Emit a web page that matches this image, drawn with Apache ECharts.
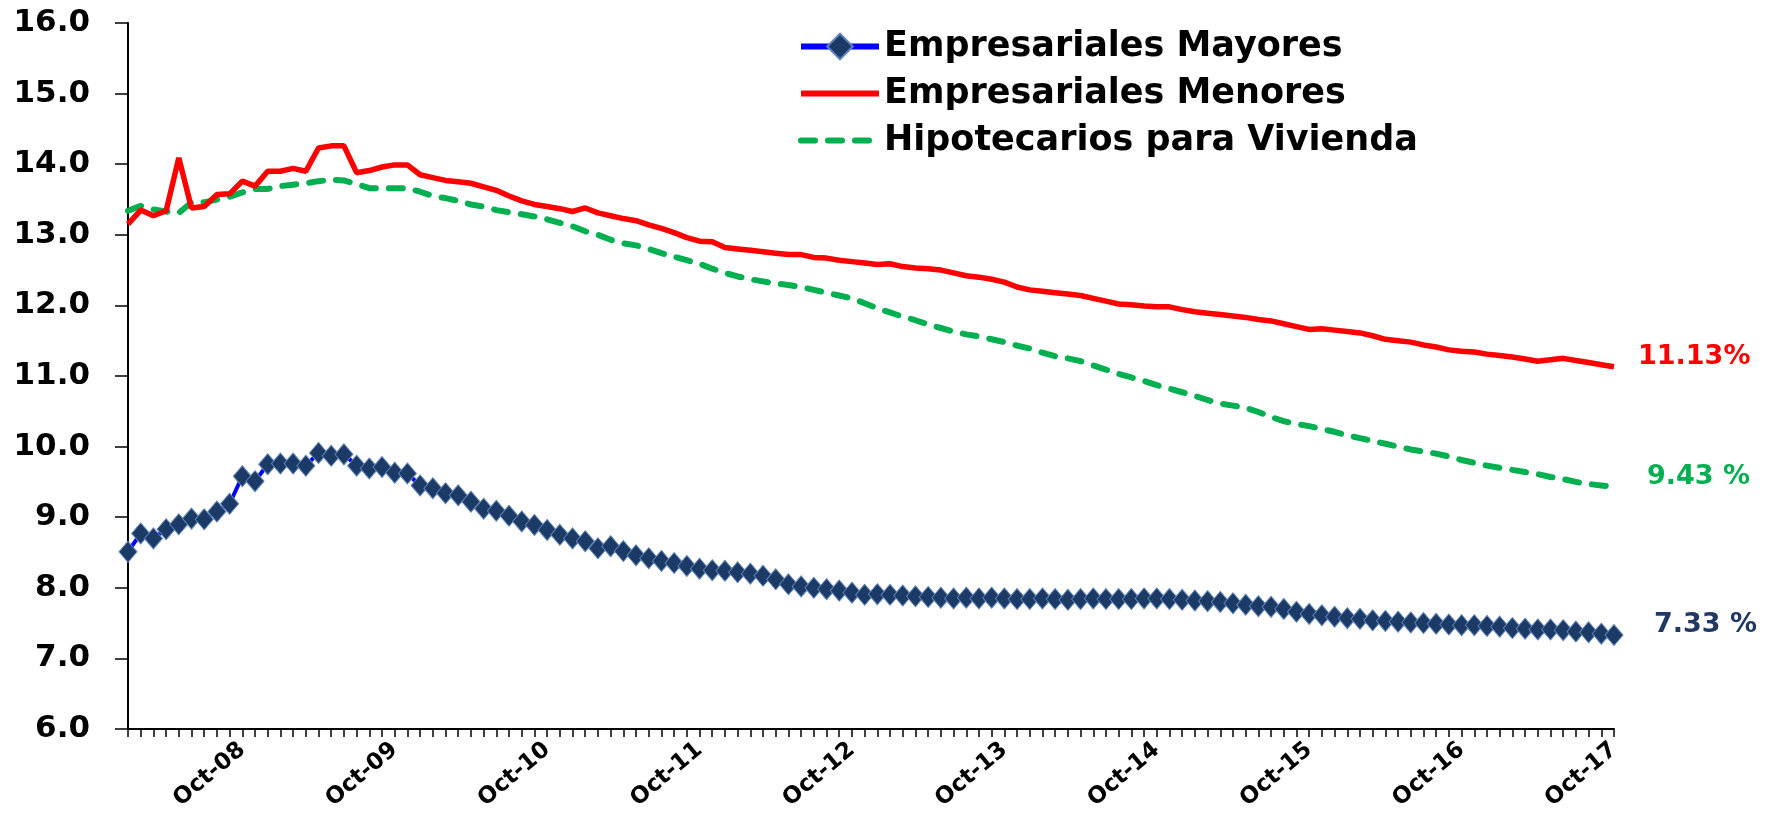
<!DOCTYPE html>
<html>
<head>
<meta charset="utf-8">
<script src="https://cdn.jsdelivr.net/npm/echarts@6/dist/echarts.min.js"></script>
<style>
  html, body { margin: 0; padding: 0; background: #fff; }
  #main { width: 1777px; height: 822px; }
</style>
</head>
<body>
<div id="main"></div>
<script>
// monthly series, Jan-08 .. Oct-17
const monthNames = ['Jan', 'Feb', 'Mar', 'Apr', 'May', 'Jun', 'Jul', 'Aug', 'Sep', 'Oct', 'Nov', 'Dec'];
const startYear = 2008;

const seriesNames = ['Empresariales Mayores', 'Empresariales Menores', 'Hipotecarios para Vivienda'];
const endLabels = ['7.33 %', '11.13%', '9.43 %'];

const mayores = [
  8.51, 8.77, 8.70, 8.83, 8.90, 8.98, 8.97, 9.08, 9.19, 9.58, 9.51, 9.75,
  9.76, 9.76, 9.73, 9.91, 9.87, 9.89, 9.73, 9.69, 9.71, 9.63, 9.62, 9.45,
  9.41, 9.34, 9.31, 9.22, 9.12, 9.09, 9.02, 8.94, 8.89, 8.82, 8.75, 8.70,
  8.66, 8.56, 8.59, 8.52, 8.46, 8.42, 8.38, 8.35, 8.31, 8.27, 8.25, 8.24,
  8.22, 8.20, 8.17, 8.12, 8.05, 8.02, 8.00, 7.98, 7.96, 7.93, 7.90, 7.91,
  7.90, 7.89, 7.88, 7.87, 7.86, 7.85, 7.86, 7.85, 7.86, 7.85, 7.84, 7.84,
  7.85, 7.84, 7.83, 7.84, 7.85, 7.84, 7.84, 7.84, 7.85, 7.85, 7.84, 7.83,
  7.82, 7.81, 7.80, 7.78, 7.76, 7.74, 7.73, 7.70, 7.66, 7.63, 7.61, 7.59,
  7.57, 7.56, 7.54, 7.53, 7.52, 7.51, 7.50, 7.49, 7.48, 7.47, 7.47, 7.46,
  7.45, 7.43, 7.42, 7.41, 7.41, 7.40, 7.38, 7.37, 7.35, 7.33
];

const menores = [
  13.15, 13.35, 13.27, 13.34, 14.09, 13.38, 13.40, 13.57, 13.58, 13.76, 13.69, 13.90,
  13.90, 13.94, 13.90, 14.23, 14.26, 14.26, 13.88, 13.91, 13.96, 13.99, 13.99, 13.85,
  13.81, 13.77, 13.75, 13.73, 13.68, 13.63, 13.55, 13.48, 13.43, 13.40, 13.37, 13.33,
  13.38, 13.31, 13.27, 13.23, 13.20, 13.14, 13.09, 13.03, 12.96, 12.91, 12.90, 12.82,
  12.80, 12.78, 12.76, 12.74, 12.72, 12.72, 12.68, 12.67, 12.64, 12.62, 12.60, 12.58,
  12.59, 12.55, 12.53, 12.52, 12.50, 12.46, 12.42, 12.40, 12.37, 12.33, 12.26, 12.22,
  12.20, 12.18, 12.16, 12.14, 12.10, 12.06, 12.02, 12.01, 11.99, 11.98, 11.98, 11.94,
  11.91, 11.89, 11.87, 11.85, 11.83, 11.80, 11.78, 11.74, 11.70, 11.66, 11.67, 11.65,
  11.63, 11.61, 11.57, 11.52, 11.50, 11.48, 11.44, 11.41, 11.37, 11.35, 11.34, 11.31,
  11.29, 11.27, 11.24, 11.21, 11.23, 11.25, 11.22, 11.19, 11.16, 11.13
];

const hipotecarios = [
  13.34, 13.41, 13.36, 13.33, 13.31, 13.46, 13.46, 13.50, 13.54, 13.60, 13.65, 13.65,
  13.69, 13.71, 13.73, 13.76, 13.78, 13.77, 13.72, 13.66, 13.66, 13.66, 13.66, 13.61,
  13.55, 13.52, 13.48, 13.43, 13.40, 13.35, 13.32, 13.29, 13.26, 13.22, 13.17, 13.12,
  13.05, 13.00, 12.93, 12.88, 12.85, 12.80, 12.74, 12.69, 12.64, 12.59, 12.52, 12.46,
  12.41, 12.37, 12.34, 12.31, 12.29, 12.26, 12.22, 12.18, 12.14, 12.10, 12.03, 11.96,
  11.90, 11.84, 11.79, 11.73, 11.68, 11.63, 11.59, 11.56, 11.52, 11.48, 11.43, 11.39,
  11.33, 11.28, 11.25, 11.21, 11.15, 11.09, 11.03, 10.98, 10.93, 10.87, 10.82, 10.77,
  10.72, 10.66, 10.61, 10.58, 10.55, 10.49, 10.42, 10.36, 10.32, 10.29, 10.25, 10.21,
  10.16, 10.12, 10.08, 10.04, 10.00, 9.96, 9.93, 9.90, 9.86, 9.81, 9.77, 9.73,
  9.70, 9.67, 9.64, 9.61, 9.57, 9.54, 9.50, 9.47, 9.45, 9.43
];

// category labels like "Oct-08"
const categories = menores.map((v, i) => {
  const y = startYear + Math.floor(i / 12);
  return monthNames[i % 12] + '-' + String(y).slice(2);
});

const font = 'DejaVu Sans';

const myChart = echarts.init(document.getElementById('main'));

const option = {
  animation: false,
  backgroundColor: '#fff',
  grid: { left: 128, right: 163, top: 23, bottom: 93 },
  legend: {
    data: [
      { name: seriesNames[0], lineStyle: { width: 6 } },
      { name: seriesNames[1], lineStyle: { width: 6 }, itemStyle: { opacity: 0 } },
      { name: seriesNames[2], lineStyle: { width: 6 }, itemStyle: { opacity: 0 } },
    ],
    orient: 'vertical',
    left: 793,
    top: 24,
    itemWidth: 78,
    itemHeight: 32,
    itemGap: 12,
    textStyle: { fontFamily: font, fontWeight: 'bold', fontSize: 35, color: '#000', lineHeight: 35 },
  },
  xAxis: {
    type: 'category',
    data: categories,
    boundaryGap: false,
    axisLine: { lineStyle: { color: '#000', width: 2 } },
    axisTick: { interval: 0, length: 8, lineStyle: { color: '#000', width: 1.5 } },
    axisLabel: {
      interval: (idx, val) => val.startsWith('Oct'),
      rotate: 40,
      margin: 18,
      fontFamily: font,
      fontWeight: 'bold',
      fontSize: 23,
      color: '#000',
    },
  },
  yAxis: {
    type: 'value',
    min: 6,
    max: 16,
    interval: 1,
    splitLine: { show: false },
    axisLine: { show: true, lineStyle: { color: '#000', width: 2 } },
    axisTick: { show: true, length: 13, lineStyle: { color: '#000', width: 1.5 } },
    axisLabel: {
      margin: 38,
      formatter: (v) => v.toFixed(1),
      fontFamily: font,
      fontWeight: 'bold',
      fontSize: 31,
      color: '#000',
    },
  },
  series: [
    {
      name: seriesNames[0],
      type: 'line',
      data: mayores,
      symbol: 'diamond',
      symbolSize: [18, 21],
      showAllSymbol: true,
      lineStyle: { color: '#0000FF', width: 4 },
      itemStyle: { color: '#1B3A66', borderColor: '#5E82B8', borderWidth: 1 },
      endLabel: {
        show: true,
        formatter: () => endLabels[0],
        distance: 40,
        offset: [0, -10],
        fontFamily: font,
        fontWeight: 'bold',
        fontSize: 27,
        color: '#1F3864',
      },
      z: 4,
    },
    {
      name: seriesNames[1],
      type: 'line',
      data: menores,
      symbol: 'none',
      lineStyle: { color: '#FF0000', width: 5.5 },
      itemStyle: { color: '#FF0000' },
      endLabel: {
        show: true,
        formatter: () => endLabels[1],
        distance: 24,
        offset: [0, -10],
        fontFamily: font,
        fontWeight: 'bold',
        fontSize: 27,
        color: '#FF0000',
      },
      z: 3,
    },
    {
      name: seriesNames[2],
      type: 'line',
      data: hipotecarios,
      symbol: 'none',
      lineStyle: { color: '#00B050', width: 6, type: [14, 13], cap: 'round' },
      itemStyle: { color: '#00B050' },
      endLabel: {
        show: true,
        formatter: () => endLabels[2],
        distance: 33,
        offset: [0, -10],
        fontFamily: font,
        fontWeight: 'bold',
        fontSize: 27,
        color: '#00B050',
      },
      z: 2,
    },
  ],
};

myChart.setOption(option);
</script>
</body>
</html>
